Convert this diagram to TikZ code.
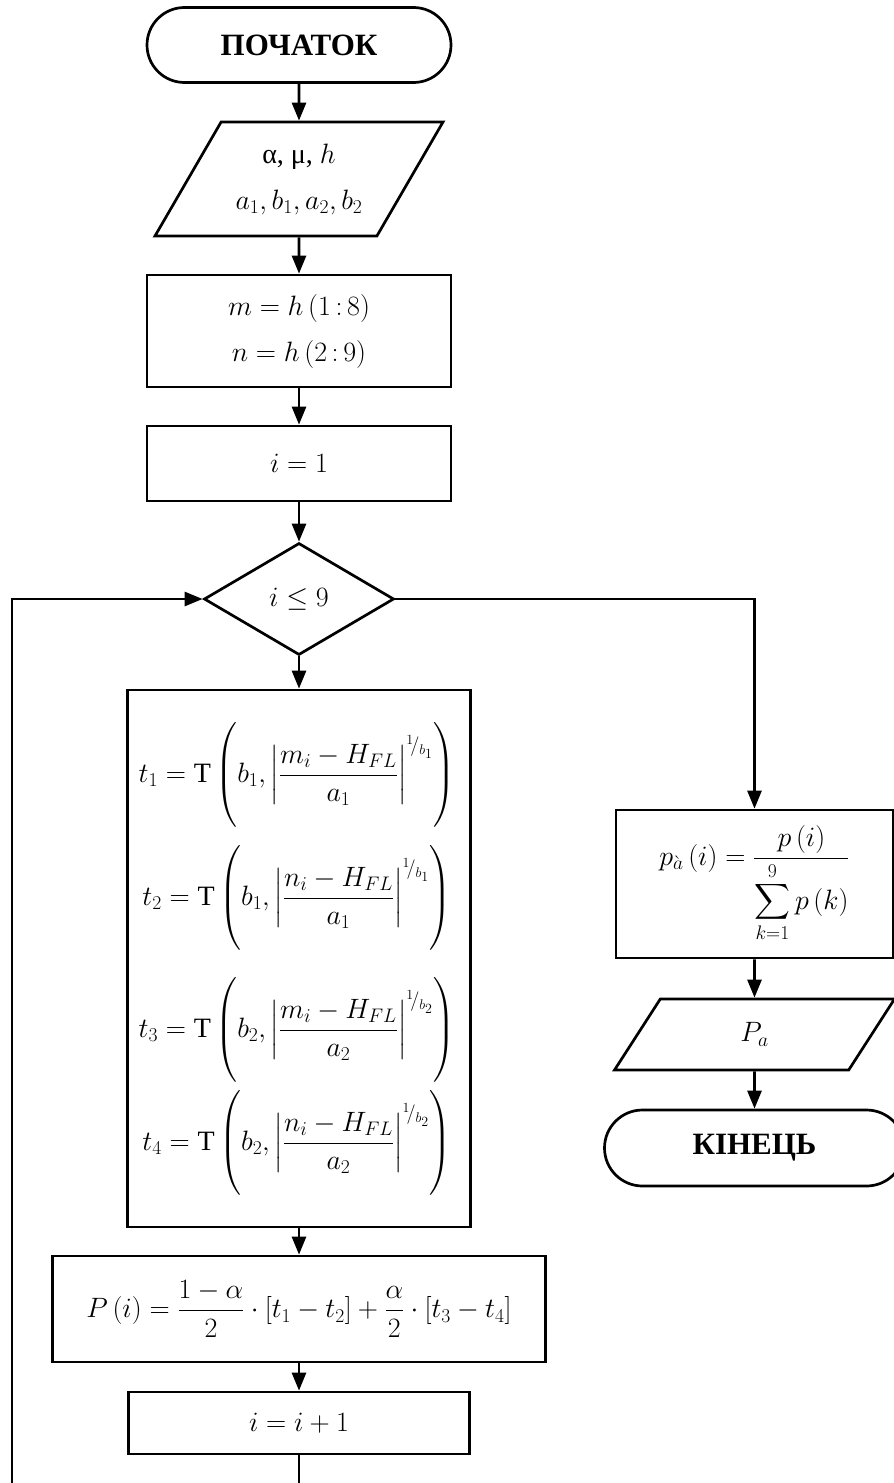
\RequirePackage{fix-cm}
\documentclass[tikz,border=0pt]{standalone}
\usepackage{amsmath}
\usepackage{fontspec}
\setmainfont{Liberation Serif}
\usetikzlibrary{shapes.geometric,shapes.misc,arrows.meta}

\begin{document}
\begin{tikzpicture}[x=1pt,y=-1pt,line width=2.7pt,>={Triangle[length=18pt,width=14pt]},
  every node/.style={font=\fontsize{28}{46}\selectfont}]

\tikzstyle{term}=[rounded rectangle,draw,minimum width=304pt,minimum height=75pt,inner sep=0pt,font=\fontsize{31}{36}\selectfont\bfseries]
\tikzstyle{io}=[trapezium,draw,trapezium left angle=47,trapezium right angle=133,trapezium stretches body,minimum height=114pt,minimum width=288pt,inner sep=0pt,align=center]
\tikzstyle{box}=[rectangle,draw,inner sep=0pt,align=center]
\tikzstyle{cond}=[diamond,draw,minimum width=190pt,minimum height=112pt,inner sep=0pt]
\newcommand{\tall}{\rule[-1.55em]{0pt}{3.1em}}

\useasboundingbox (0,0) rectangle (894,1483);

%left column.
\node[term] (start) at (299,45) {ПОЧАТОК};
\node[io] (input) at (299,179) {α, μ, $h$\\$a_1, b_1, a_2, b_2$};
\node[box,minimum width=304pt,minimum height=112pt] (hstep) at (299,331) {$m=h\left(1\,{:}\,8\right)$\\$n=h\left(2\,{:}\,9\right)$};
\node[box,minimum width=304pt,minimum height=75pt] (init) at (299,463.5) {$i=1$};
\node[cond] (check) at (299,599) {$i\le 9$};

\node[box,minimum width=343pt,minimum height=537pt] (tcalc) at (299,958.5) {};
\node (tone) at (297,775) {$t_1=\mathrm{T}\left(\tall b_1,\left|\dfrac{m_i-H_{FL}}{a_1}\right|^{{}^{1}\!/_{b_1}}\right)$};
\node (ttwo) at (297,898) {$t_2=\mathrm{T}\left(\tall b_1,\left|\dfrac{n_i-H_{FL}}{a_1}\right|^{{}^{1}\!/_{b_1}}\right)$};
\node (tthree) at (297,1030) {$t_3=\mathrm{T}\left(\tall b_2,\left|\dfrac{m_i-H_{FL}}{a_2}\right|^{{}^{1}\!/_{b_2}}\right)$};
\node (tfour) at (297,1143) {$t_4=\mathrm{T}\left(\tall b_2,\left|\dfrac{n_i-H_{FL}}{a_2}\right|^{{}^{1}\!/_{b_2}}\right)$};

\node[box,minimum width=493pt,minimum height=106pt] (prob) at (299,1309) {$P\left(i\right)=\dfrac{1-\alpha}{2}\cdot\left[t_1-t_2\right]+\dfrac{\alpha}{2}\cdot\left[t_3-t_4\right]$};
\node[box,minimum width=341pt,minimum height=62pt] (incr) at (299,1423) {$i=i+1$};
\coordinate (cutA) at (299,1483);
\coordinate (cutB) at (12,1483);

%right column.
\node[box,minimum width=277pt,minimum height=148pt] (norm) at (754.5,884) {$p_{\grave{a}}\left(i\right)=\dfrac{p\left(i\right)}{\displaystyle\sum_{k=1}^{9}p\left(k\right)}$};
\node[io,trapezium left angle=27,trapezium right angle=153,minimum height=71pt,minimum width=280pt] (output) at (754.5,1034.5) {$P_a$};
\node[term,minimum width=300pt,minimum height=76pt] (stop) at (754.5,1148) {КІНЕЦЬ};

\draw [->] (start) -- (input);
\draw [->] (input) -- (hstep);
\draw [->] (hstep) -- (init);
\draw [->] (init) -- (check);
\draw [->] (check) -- (tcalc);
\draw [->] (tcalc) -- (prob);
\draw [->] (prob) -- (incr);
\draw (incr) -- (cutA);
\draw [->] (cutB) |- (check);
\draw [->] (check) -| (norm);
\draw [->] (norm) -- (output);
\draw [->] (output) -- (stop);

\end{tikzpicture}
\end{document}
